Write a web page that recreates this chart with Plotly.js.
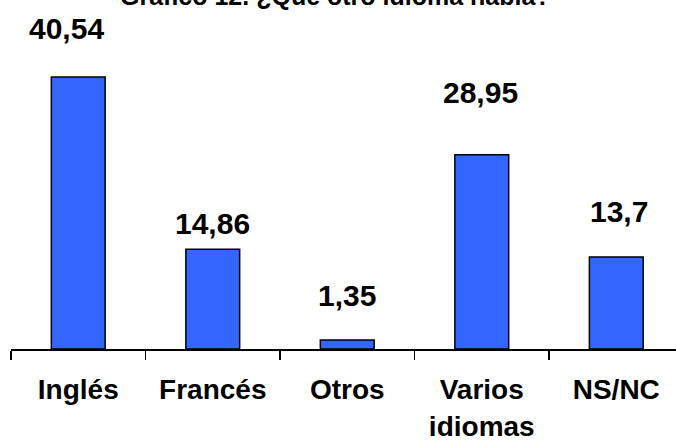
<!DOCTYPE html>
<html>
<head>
<meta charset="utf-8">
<script src="https://cdn.plot.ly/plotly-3.0.1.min.js"></script>
<style>html,body{margin:0;padding:0;background:#fff;}#chart{width:676px;height:442px;}</style>
</head>
<body>
<div id="chart"></div>
<script>
// Data
var categories = ["Inglés", "Francés", "Otros", "Varios idiomas", "NS/NC"];
var tickLabels = ["Inglés", "Francés", "Otros", "Varios<br>idiomas", "NS/NC"];
var values = [40.54, 14.86, 1.35, 28.95, 13.7];
var chartTitle = "Gráfico 12. ¿Qué otro idioma habla?";

// Label placement (style, px)
var labelLift = [48, 26, 44, 62, 46];
var labelShiftX = [-12, 0, 0, -1, 3];

var FONT = "Liberation Sans, Arial, sans-serif";

var trace = {
  type: "bar",
  x: categories,
  y: values,
  width: 0.4,
  marker: {color: "#3366FF", line: {color: "#000000", width: 1.5}},
  hoverinfo: "none"
};

var annotations = values.map(function (v, i) {
  return {
    x: categories[i], y: v, xref: "x", yref: "y",
    text: String(v).replace(".", ","),
    showarrow: false, xanchor: "center", yanchor: "middle",
    yshift: labelLift[i], xshift: labelShiftX[i],
    font: {family: FONT, size: 30, color: "#000", weight: "bold"}
  };
});
annotations.push({
  x: 0.488, y: 1.17, xref: "paper", yref: "paper",
  text: chartTitle, showarrow: false, xanchor: "center", yanchor: "middle",
  font: {family: FONT, size: 25, color: "#000", weight: "bold"}
});

var layout = {
  width: 676, height: 442,
  margin: {l: 11, r: 0, t: 47, b: 93, pad: 0},
  paper_bgcolor: "#fff", plot_bgcolor: "#fff",
  showlegend: false,
  xaxis: {
    type: "category",
    range: [-0.5, 4.444],
    tickmode: "array", tickvals: categories, ticktext: tickLabels,
    tickson: "boundaries", ticks: "outside", ticklen: 9, tickwidth: 1.5, tickcolor: "#000",
    showline: true, linecolor: "#000", linewidth: 1.5,
    showgrid: false, zeroline: false,
    tickfont: {family: FONT, size: 28, color: "#000", weight: "bold"},
    ticklabelstandoff: 15
  },
  yaxis: {
    range: [0, 45], visible: false, showgrid: false, zeroline: false
  },
  annotations: annotations
};

Plotly.newPlot("chart", [trace], layout, {staticPlot: true, displayModeBar: false});
</script>
</body>
</html>
